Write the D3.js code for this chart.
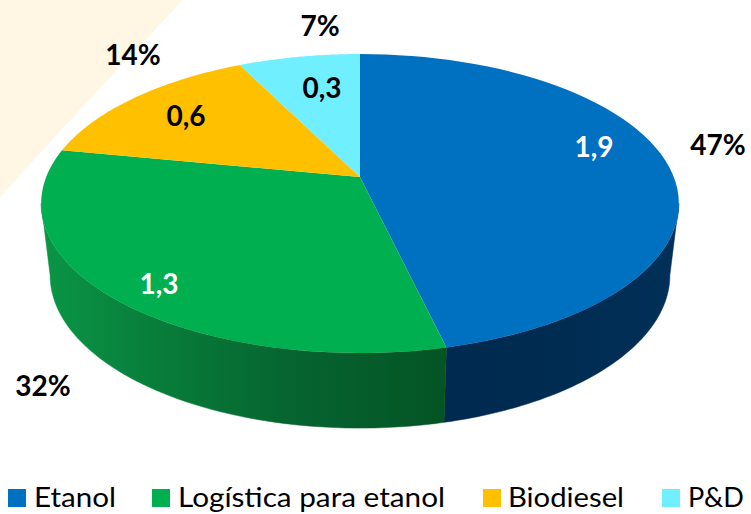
<!DOCTYPE html>
<html><head><meta charset="utf-8">
<script src="https://cdn.jsdelivr.net/npm/d3@7"></script>
<style>html,body{margin:0;padding:0;background:#fff}svg{display:block}text{font-family:Lato,"Open Sans",sans-serif}</style>
</head><body><svg id="c" width="751" height="514"></svg>
<script>
const categories = ["Etanol","Logística para etanol","Biodiesel","P&D"];
const values = [1.9,1.3,0.6,0.3];
const valueLabels = ["1,9","1,3","0,6","0,3"];
const shareLabels = ["47%","32%","14%","7%"];
const colors = ["#0070c0","#00b050","#ffc000","#6fefff"];
const valueColors = ["#fff","#fff","#000","#000"];

const svg = d3.select("#c");
const cx = 360;
// perspective projection of a circular pie onto the page
const persp = -0.1773;
const topFace = {k:313.8, a:113.4, b:177};
const baseFace = {k:305, a:104.3, b:247.9};
const project = (f, ang, r=1) => {
  const u = r*Math.sin(ang), v = -r*Math.cos(ang), d = 1 + persp*v;
  return [cx + f.k*u/d, (f.a*v + f.b)/d];
};
const samples = (a0,a1) => d3.range(0,61).map(i => a0 + (a1-a0)*i/60);
const line = d3.line();

const arcs = d3.pie().sort(null).value(d=>d)(values);

// decorative background corner
svg.append("path").attr("d","M0,0L183,0Q95,92 0,197Z").attr("fill","#fff7e3");

// gradients for the wall
const defs = svg.append("defs");
const g1 = defs.append("linearGradient").attr("id","wall0").attr("gradientUnits","userSpaceOnUse")
  .attr("x1",445).attr("x2",680).attr("y1",0).attr("y2",0);
[[0,"#002a50"],[0.5,"#002c52"],[1,"#003058"]].forEach(s=>g1.append("stop").attr("offset",s[0]).attr("stop-color",s[1]));
const g2 = defs.append("linearGradient").attr("id","wall1").attr("gradientUnits","userSpaceOnUse")
  .attr("x1",42).attr("x2",446).attr("y1",0).attr("y2",0);
[[0,"#0a9546"],[0.3,"#087c3a"],[0.6,"#066530"],[1,"#045424"]].forEach(s=>g2.append("stop").attr("offset",s[0]).attr("stop-color",s[1]));

// walls: visible part runs between the two tangent angles of the projected disc
const tangent = Math.acos(persp);
const wallRange = [
  [tangent, arcs[0].endAngle],
  [arcs[1].startAngle, 2*Math.PI - tangent]
];
wallRange.forEach((r,i)=>{
  const a = samples(r[0], r[1]);
  const pts = a.map(t=>project(topFace,t)).concat(a.slice().reverse().map(t=>project(baseFace,t)));
  svg.append("path").attr("d",line(pts)+"Z").attr("fill",`url(#wall${i})`)
    .attr("stroke",`url(#wall${i})`).attr("stroke-width",0.5);
});
// top faces
arcs.forEach((d,i)=>{
  const pts = [project(topFace,0,0)].concat(samples(d.startAngle,d.endAngle).map(t=>project(topFace,t)));
  svg.append("path").attr("d",line(pts)+"Z").attr("fill",colors[i]);
});

// value labels
const valuePos = [[594,147],[159,284],[186,116],[322,88]];
const sharePos = [[718,145],[43,386],[133,55],[320,26]];
svg.append("g").selectAll("text").data(valueLabels).join("text")
  .attr("x",(d,i)=>valuePos[i][0]).attr("y",(d,i)=>valuePos[i][1]).attr("dy","0.35em")
  .attr("text-anchor","middle").attr("font-size",28).attr("font-weight",700)
  .attr("fill",(d,i)=>valueColors[i]).text(d=>d);
svg.append("g").selectAll("text").data(shareLabels).join("text")
  .attr("x",(d,i)=>sharePos[i][0]).attr("y",(d,i)=>sharePos[i][1]).attr("dy","0.35em")
  .attr("text-anchor","middle").attr("font-size",28).attr("font-weight",700)
  .attr("fill","#000").text(d=>d);

// legend
const swatchX = [8,152,483,662];
const textX = [34,178,508,688];
const textW = [82,267,116,56];
const lg = svg.append("g");
categories.forEach((c,i)=>{
  lg.append("rect").attr("x",swatchX[i]).attr("y",489).attr("width",18).attr("height",18).attr("fill",colors[i]);
  lg.append("text").attr("x",textX[i]).attr("y",507).attr("font-size",27).attr("fill","#000")
    .attr("textLength",textW[i]).attr("lengthAdjust","spacingAndGlyphs").text(c);
});
</script></body></html>
